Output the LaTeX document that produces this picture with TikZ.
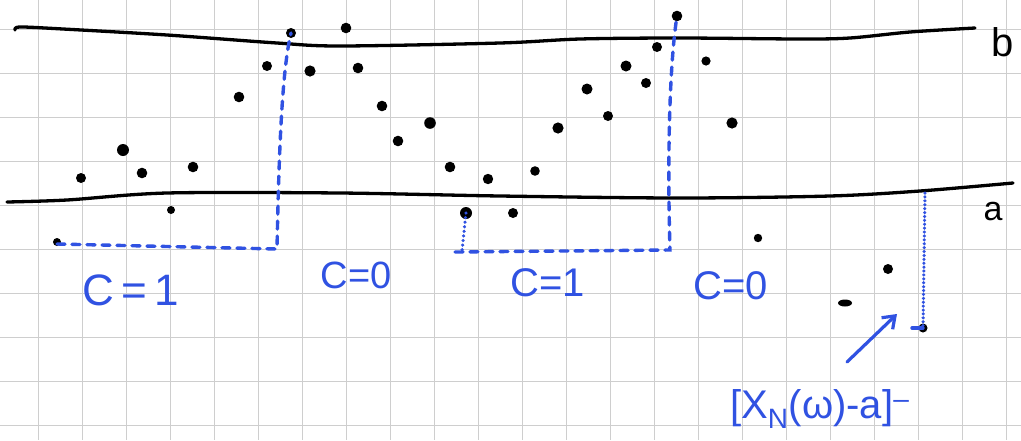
\documentclass[tikz,border=0pt]{standalone}
\usepackage{fontspec}
\setmainfont{Liberation Sans}
\usetikzlibrary{arrows.meta}
\definecolor{pen}{RGB}{48,82,226}
\definecolor{gridc}{RGB}{206,206,206}
\begin{document}
\begin{tikzpicture}[x=1pt,y=-1pt,
  ink/.style={line width=3.3pt,line cap=round,line join=round},
  bluedash/.style={draw=pen,line width=3.4pt,dash pattern=on 8pt off 7pt,line cap=round},
  bluedot/.style={draw=pen,line width=3.4pt,dash pattern=on 0.1pt off 4.5pt,line cap=round},
  lab/.style={text=pen,inner sep=0pt,font=\fontsize{40}{40}\selectfont},
  blk/.style={text=black,inner sep=0pt,font=\fontsize{40}{40}\selectfont}]
\useasboundingbox (0,0) rectangle (1021,440);
\fill[white] (0,0) rectangle (1021,440);
% grid paper
\foreach \i in {0,...,22} \draw[gridc,line width=1.3pt] (38.7+44*\i,0) -- (38.7+44*\i,440);
\foreach \j in {0,...,9} \draw[gridc,line width=1.3pt] (0,29.3+44*\j) -- (1021,29.3+44*\j);
% bounds b and a
\draw[ink] plot[smooth,tension=0.5] coordinates {(15,30) (20,27) (63,29) (167,35) (277,43) (340,46) (500,43) (580,39) (680,38) (800,39) (850,38) (910,32) (975,28)};
\draw[ink] plot[smooth,tension=0.5] coordinates {(7,202) (67,200) (167,193) (340,193) (500,196) (680,198) (830,196) (920,191) (1013,183)};
\node[blk] (b) at (1003,42) {b};
\node[blk,font=\fontsize{34}{34}\selectfont] (a) at (993,212) {a};
% sample points
\foreach \p/\r in {(81,178)/5, (123,150)/6, (142,173)/5.3, (193,167)/5.3, (239,97)/5.3, (267,66)/5, (310,71)/5.6,
  (346,28)/5.3, (358,68)/5.3, (382,106)/5.3, (398,141)/5.3, (430,123)/5.8, (450,167)/5.3, (488,179)/5.2,
  (513,213)/5, (535,171)/4.8, (558,128)/5.6, (587,89)/5.5, (608,116)/5, (626,66)/5.5, (646,83)/5,
  (657,47)/5, (706,61)/4.6, (732,123)/5.6, (888,269)/5, (171,210)/4, (57,242)/4, (758,238)/4.2}
  \fill \p circle[radius=\r pt];
\fill (845,303) ellipse[x radius=7pt,y radius=3.5pt];
\coordinate (d1) at (57,244);
\coordinate (t1) at (291,33);
\coordinate (d2) at (466,213);
\coordinate (t2) at (677,16);
\coordinate (d3) at (923,328);
\coordinate (u3) at (925,193);
\fill (t1) circle[radius=5pt];
\fill (d2) circle[radius=6pt];
\fill (t2) circle[radius=5.3pt];
\fill (d3) circle[radius=4.5pt];
% C=1 left region
\coordinate (c1) at (277,249);
\draw[bluedash] (d1) -- (c1) .. controls (279,150) and (282,70) .. (t1);
% C=1 middle region
\coordinate (c2a) at (462,251);
\coordinate (c2b) at (670,250);
\draw[bluedot] (d2) -- (c2a);
\draw[bluedash] (455,252) -- (c2b) .. controls (667,150) and (670,60) .. (t2);
% negative part
\draw[bluedot,dash pattern=on 0.1pt off 3.8pt] (u3) -- (d3);
\draw[pen,line width=3.4pt,line cap=round] (912,328) -- (d3);
% labels
\node[lab,font=\fontsize{44}{44}\selectfont] (l1) at (131,290) {C\,=\,1};
\node[lab,font=\fontsize{38}{38}\selectfont] (l2) at (356,275) {C=0};
\node[lab,font=\fontsize{40}{40}\selectfont] (l3) at (548,283) {C=1};
\node[lab,font=\fontsize{40}{40}\selectfont] (l4) at (731,286) {C=0};
\node[lab,anchor=base west] (f) at (730,418) {[X\textsubscript{N}(ω)-a]\textsuperscript{–}};
\coordinate (ar) at (897,314);
\coordinate (as) at (847,362);
\draw[pen,line width=3.2pt,line cap=round,-{Straight Barb[length=11pt,width=16pt]}] (as) -- (ar);
\end{tikzpicture}
\end{document}
